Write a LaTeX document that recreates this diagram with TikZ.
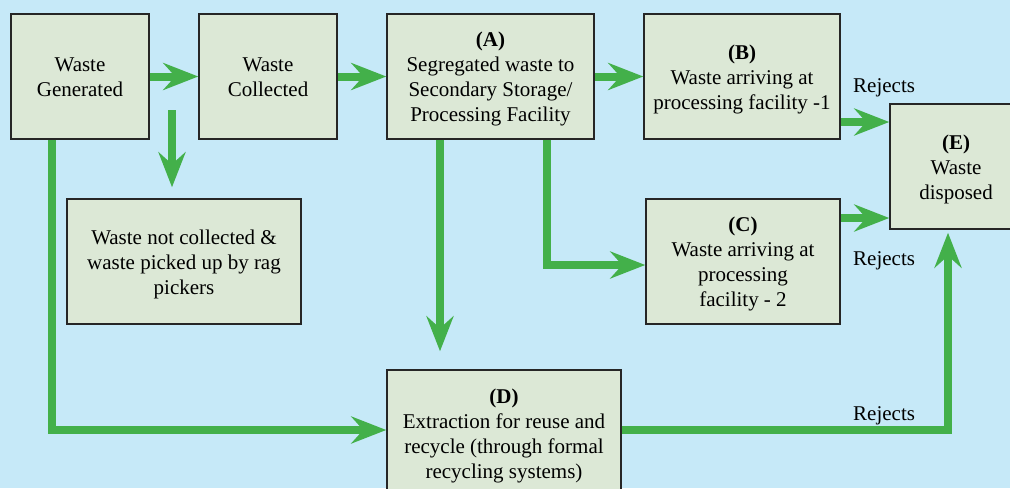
\documentclass[tikz,border=0pt]{standalone}
\usepackage{fontspec}
\setmainfont{Liberation Serif}
\usetikzlibrary{arrows.meta,calc}
\definecolor{bg}{HTML}{C6E9F8}
\definecolor{boxfill}{HTML}{DCE8D6}
\definecolor{flow}{HTML}{43B04A}
% centred lines, set a little low inside their box
\newcommand\stagetext[1]{\raisebox{-2.5pt}[\height][\depth]{\begin{tabular}{@{}c@{}}#1\end{tabular}}}
\begin{document}
\begin{tikzpicture}[x=1pt,y=-1pt,
  stage/.style={draw=black!85, line width=1.5pt, fill=boxfill,
    inner sep=0pt, font=\fontsize{21}{25}\selectfont},
  flowline/.style={draw=flow, line width=8pt,
    -{Stealth[length=35pt,width=27pt,inset=12pt]}},
  note/.style={font=\fontsize{21}{25}\selectfont, anchor=west, inner sep=0pt}
]
\fill[bg] (0,0) rectangle (1010,488);
\useasboundingbox (0,0) rectangle (1010,488);

% process stages
\node[stage, minimum width=138pt, minimum height=125pt] (gen) at (80,76.5)
  {\stagetext{Waste\\Generated}};
\node[stage, minimum width=138pt, minimum height=125pt] (col) at (268,76.5)
  {\stagetext{Waste\\Collected}};
\node[stage, minimum width=207pt, minimum height=125pt] (A) at (490.5,76.5)
  {\stagetext{\textbf{(A)}\\Segregated waste to\\Secondary Storage/\\Processing Facility}};
\node[stage, minimum width=196pt, minimum height=125pt] (B) at (742,76.5)
  {\stagetext{\textbf{(B)}\\Waste arriving at\\processing facility -1}};
\node[stage, minimum width=132pt, minimum height=125pt] (E) at (956,166.5)
  {\stagetext{\textbf{(E)}\\Waste\\disposed}};
\node[stage, minimum width=194pt, minimum height=125pt] (C) at (743,261.5)
  {\stagetext{\textbf{(C)}\\Waste arriving at\\processing\\facility - 2}};
\node[stage, minimum width=234pt, minimum height=125pt] (nc) at (184,261.5)
  {\stagetext{Waste not collected \&\\waste picked up by rag\\pickers}};
\node[stage, minimum width=234pt, minimum height=126pt] (D) at (504,433)
  {\stagetext{\textbf{(D)}\\Extraction for reuse and\\recycle (through formal\\recycling systems)}};

% main flow
\draw[flowline] (gen) -- (col);
\draw[flowline] (col) -- (A);
\draw[flowline] (A) -- (B);

% uncollected share
\coordinate (branch) at (172,110);
\draw[flowline, shorten >=11pt] (branch) -- (branch |- nc.north);

% routes to recycling and processing
\draw[flowline] ([xshift=-28pt]gen.south) |- ([yshift=3pt]D.west);
\draw[flowline, shorten >=18pt] ([xshift=-50.5pt]A.south) -- ([xshift=-50.5pt]A.south |- D.north);
\draw[flowline] ([xshift=56pt]A.south) |- ([yshift=-3.5pt]C.west);

% rejects to disposal
\coordinate (bout) at ([yshift=-45.5pt]B.east);
\coordinate (cout) at ([yshift=43.5pt]C.east);
\draw[flowline] (bout) -- (bout -| E.west);
\draw[flowline] (cout) -- (cout -| E.west);
\draw[flowline, shorten >=3pt] ([yshift=3pt]D.east) -| ([xshift=-8pt]E.south);

\node[note] (r1) at (853,88) {Rejects};
\node[note] (r2) at (853,261) {Rejects};
\node[note] (r3) at (853,416) {Rejects};
\end{tikzpicture}
\end{document}
